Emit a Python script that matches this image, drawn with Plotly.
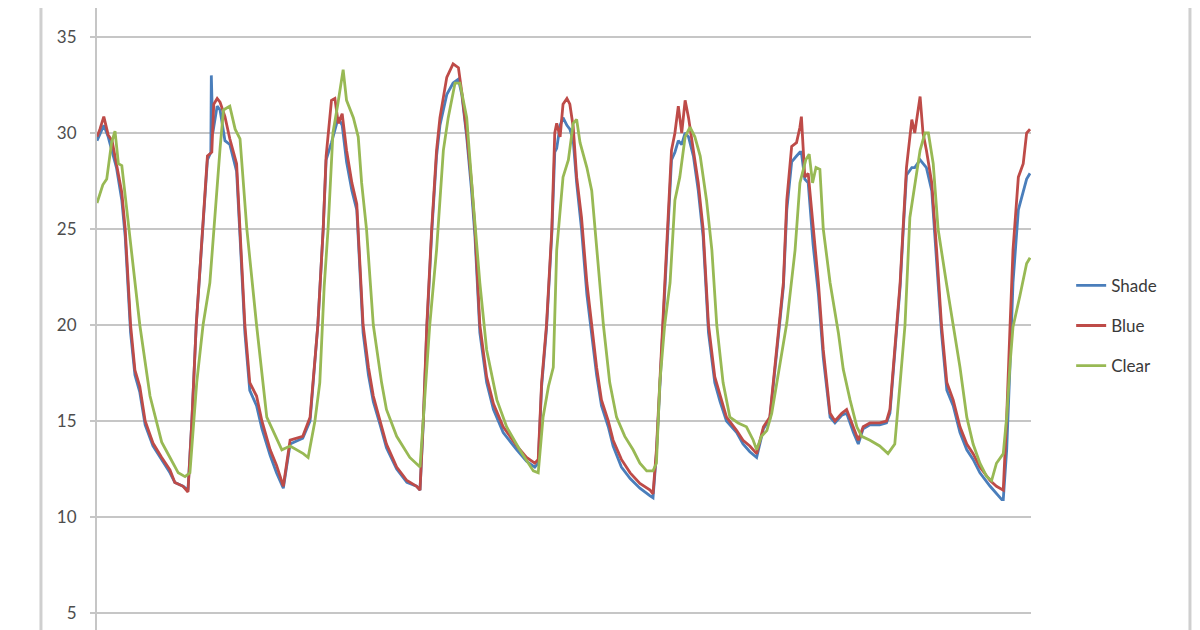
import plotly.graph_objects as go

# Time in hours from start of record
blue_h = [0, 0.6, 1.4, 2.3, 3.1, 4.0, 5.1, 5.8, 6.9, 7.8, 8.8, 9.9, 11.5, 13.3, 15.0, 16.0, 17.7, 18.7,
          19.5, 20.4, 21.7, 22.7, 23.6, 24.0, 24.7, 25.3, 26.3, 27.3, 28.7, 29.4, 30.4, 31.4, 32.8, 33.9,
          35.6, 36.9, 38.3, 39.7, 42.3, 43.8, 45.4, 46.5, 47.1, 48.2, 48.9, 49.6, 50.4, 51.3, 52.4, 53.4,
          54.1, 54.7, 55.8, 56.8, 58.2, 59.5, 61.6, 63.7, 65.7, 66.4, 67.1, 67.8, 68.8, 69.8, 70.5, 71.9,
          73.2, 74.3, 75.0, 76.0, 77.0, 77.7, 78.7, 80.1, 81.5, 83.5, 86.3, 88.3, 90.0, 90.7, 91.4, 92.4,
          93.5, 94.1, 94.5, 95.2, 95.8, 96.6, 97.2, 97.9, 98.6, 99.6, 100.7, 101.7, 102.7, 103.7, 105.1,
          106.1, 107.8, 109.6, 111.6, 113.7, 114.3, 115.0, 115.7, 116.4, 117.4, 118.1, 118.8, 119.5, 120.2,
          120.9, 121.6, 122.6, 123.6, 124.6, 125.7, 127.0, 128.1, 129.4, 131.5, 132.8, 134.2, 135.6, 137.0,
          138.3, 139.7, 141.1, 141.8, 142.8, 143.8, 144.5, 144.8, 145.5, 146.2, 147.2, 148.3, 149.3, 150.7,
          151.7, 153.1, 154.1, 155.5, 156.5, 157.5, 158.9, 160.9, 162.3, 163.0, 164.0, 165.1, 165.7, 166.4,
          167.5, 168.1, 169.2, 169.8, 170.5, 171.6, 172.6, 173.6, 174.7, 176.0, 177.4, 178.8, 180.1, 181.5,
          183.6, 184.9, 186.3, 187.0, 187.7, 188.3, 189.4, 190.4, 191.1, 191.8]
blue_v = [29.8, 30.2, 30.85, 29.9, 29.6, 28.4, 26.9, 25.0, 20.0, 17.65, 16.8, 15.0, 13.85, 13.1, 12.45, 11.8, 11.6, 11.3,
          15.0, 20.0, 25.0, 28.8, 29.0, 31.5, 31.8, 31.6, 30.85, 29.7, 28.4, 25.0, 20.0, 17.0, 16.3, 15.0,
          13.5, 12.7, 11.6, 14.0, 14.2, 15.2, 20.0, 25.0, 28.8, 31.7, 31.8, 30.5, 31.0, 29.1, 27.4, 26.3,
          23.0, 20.0, 17.8, 16.3, 15.0, 13.8, 12.6, 11.9, 11.6, 11.4, 15.2, 20.0, 25.0, 29.1, 30.8, 32.9,
          33.6, 33.4, 32.1, 30.0, 27.4, 25.0, 20.0, 17.3, 15.9, 14.7, 13.7, 13.1, 12.8, 13.0, 17.0, 20.0,
          25.0, 30.0, 30.5, 29.8, 31.5, 31.8, 31.5, 30.3, 27.7, 25.6, 22.2, 20.0, 17.8, 16.1, 15.0,
          14.0, 13.0, 12.3, 11.75, 11.4, 11.2, 13.5, 17.0, 20.0, 25.0, 29.1, 30.0, 31.4, 30.0,
          31.7, 30.8, 29.1, 27.4, 25.0, 20.0, 17.3, 16.3, 15.2, 14.5, 14.0, 13.7, 13.3, 14.7,
          15.2, 18.7, 22.2, 26.5, 29.3, 29.5, 30.3, 30.85, 27.7, 27.9, 25.0, 22.2, 18.7, 15.4,
          15.0, 15.4, 15.6, 14.7, 14.0, 14.7, 14.9, 14.9, 15.0, 15.6, 18.7, 22.2, 25.0, 28.2,
          30.7, 30.0, 31.9, 30.0, 29.1, 27.4, 23.9, 20.0, 17.0, 16.1, 14.7, 13.8, 13.3, 12.6,
          11.9, 11.6, 11.4, 15.2, 20.0, 23.9, 27.7, 28.4, 30.0, 30.2]

shade_h = [0, 1.4, 2.3, 4.0, 5.1, 5.8, 6.9, 7.8, 8.8, 9.9, 11.5, 13.3, 15.0, 16.0, 17.7, 18.7, 19.5, 20.4,
           21.7, 22.7, 23.4, 23.5, 23.8, 24.7, 25.3, 26.3, 27.3, 28.7, 29.4, 30.4, 31.4, 32.8, 33.9, 35.6,
           36.9, 37.8, 38.3, 39.7, 42.3, 43.8, 45.4, 46.5, 47.1, 48.2, 48.9, 49.6, 50.4, 51.3, 52.4, 53.4,
           54.1, 54.7, 55.8, 56.8, 58.2, 59.5, 61.6, 63.7, 65.7, 66.4, 67.1, 67.8, 68.8, 69.8, 70.5, 71.9,
           73.2, 74.3, 75.0, 76.0, 77.0, 77.7, 78.7, 80.1, 81.5, 83.5, 86.3, 88.3, 90.0, 90.7, 91.4, 92.4,
           93.5, 94.1, 94.5, 95.2, 95.8, 96.6, 97.2, 97.9, 98.6, 99.6, 100.7, 101.7, 102.7, 103.7, 105.1,
           106.1, 107.8, 109.6, 111.6, 113.7, 114.3, 115.0, 115.7, 116.4, 117.4, 118.1, 118.8, 119.5, 120.2,
           120.9, 121.6, 122.6, 123.6, 124.6, 125.7, 127.0, 128.1, 129.4, 131.5, 132.8, 134.2, 135.6, 137.0,
           138.3, 139.7, 141.1, 141.8, 142.8, 143.8, 144.5, 144.8, 145.5, 146.2, 147.2, 148.3, 149.3, 150.7,
           151.7, 153.1, 154.1, 155.5, 156.5, 157.5, 158.9, 160.9, 162.3, 163.0, 164.0, 165.1, 165.7, 166.4,
           167.5, 168.1, 169.2, 169.8, 170.5, 171.6, 172.6, 173.6, 174.7, 176.0, 177.4, 178.8, 180.1, 181.5,
           183.6, 184.9, 186.0, 186.3, 187.0, 187.7, 188.3, 189.4, 190.4, 191.1, 191.8]
shade_v = [29.6, 30.4, 29.8, 28.2, 26.5, 24.6, 19.6, 17.4, 16.5, 14.8, 13.7, 13.0, 12.3, 11.8, 11.6, 11.4, 15.0, 20.0,
           25.0, 28.6, 29.0, 33.0, 30.0, 31.4, 31.2, 29.6, 29.4, 28.0, 24.6, 19.6, 16.6, 15.8, 14.6, 13.2,
           12.3, 11.8, 11.5, 13.8, 14.1, 15.0, 20.0, 25.0, 28.6, 29.5, 30.2, 30.8, 30.4, 28.5, 27.0, 26.0,
           22.6, 19.6, 17.4, 16.0, 14.8, 13.6, 12.5, 11.8, 11.6, 11.4, 15.0, 19.8, 24.8, 28.8, 30.4, 32.0,
           32.6, 32.8, 32.0, 29.8, 27.0, 24.6, 19.6, 17.0, 15.6, 14.4, 13.5, 12.9, 12.6, 12.8, 16.8, 19.8,
           24.8, 29.0, 29.2, 30.4, 30.8, 30.4, 30.2, 29.6, 27.4, 25.0, 21.6, 19.4, 17.4, 15.8, 14.7,
           13.7, 12.6, 12.0, 11.5, 11.1, 11.0, 13.3, 16.8, 19.8, 24.8, 28.6, 29.0, 29.6, 29.4,
           30.0, 29.8, 28.8, 27.0, 24.6, 19.6, 17.0, 16.0, 15.0, 14.4, 13.8, 13.4, 13.1, 14.6,
           15.1, 18.5, 22.0, 26.0, 28.5, 28.8, 29.0, 29.0, 27.6, 27.4, 24.2, 21.6, 18.3, 15.2,
           14.9, 15.3, 15.4, 14.4, 13.8, 14.6, 14.8, 14.8, 14.9, 15.4, 18.5, 22.0, 24.8, 27.8,
           28.2, 28.2, 28.6, 28.4, 28.2, 27.0, 23.5, 19.6, 16.6, 15.8, 14.4, 13.5, 13.0, 12.3,
           11.6, 11.2, 10.9, 10.9, 13.5, 18.0, 22.2, 26.0, 27.0, 27.6, 27.9]

clear_h = [0, 1.2, 2.0, 3.0, 3.7, 4.4, 5.1, 6.6, 8.8, 10.9, 13.3, 15.0, 16.7, 18.1, 19.1, 20.5, 21.8, 23.2,
           24.0, 25.3, 26.0, 27.3, 28.4, 29.4, 30.8, 32.8, 34.9, 38.0, 39.7, 42.4, 43.4, 44.8, 45.8, 46.7,
           47.5, 48.5, 49.5, 50.6, 51.3, 52.7, 53.7, 54.4, 55.4, 56.8, 58.5, 59.5, 61.6, 64.3, 66.4, 67.1,
           68.4, 69.8, 71.2, 72.2, 73.6, 74.6, 76.0, 77.3, 78.7, 80.1, 82.2, 84.2, 86.9, 89.7, 90.7, 91.7,
           92.8, 93.8, 94.5, 95.8, 96.9, 97.9, 98.6, 99.3, 100.7, 101.7, 102.7, 104.1, 105.4, 106.8, 108.5,
           110.2, 111.6, 113.0, 114.3, 115.0, 115.7, 116.7, 117.8, 118.8, 119.8, 120.9, 121.9, 122.9, 124.0,
           125.3, 126.4, 127.4, 128.7, 130.1, 131.8, 133.5, 134.9, 135.6, 136.6, 137.7, 138.7, 140.4, 141.8,
           143.5, 144.5, 145.7, 146.4, 147.1, 147.8, 148.6, 149.3, 150.7, 152.4, 153.4, 154.8, 156.2, 157.2,
           158.9, 160.9, 162.6, 164.0, 165.1, 166.1, 167.1, 168.1, 169.2, 170.2, 170.9, 171.9, 172.9, 174.6,
           176.0, 177.4, 178.8, 180.1, 181.5, 182.9, 183.9, 184.9, 186.3, 187.0, 187.7, 188.3, 189.7, 191.1,
           191.8]
clear_v = [26.35, 27.3, 27.6, 29.5, 30.1, 28.4, 28.3, 25.0, 20.0, 16.3, 13.9, 13.1, 12.3, 12.1, 12.3, 17.0, 20.0, 22.2,
           25.0, 29.2, 31.2, 31.4, 30.2, 29.7, 25.0, 20.0, 15.2, 13.5, 13.7, 13.3, 13.1, 15.0, 17.0, 22.0,
           25.0, 30.0, 31.5, 33.3, 31.7, 30.8, 29.8, 27.4, 25.0, 20.0, 17.0, 15.6, 14.2, 13.1, 12.6, 15.2,
           20.0, 23.9, 29.1, 30.8, 32.6, 32.6, 30.8, 26.5, 22.2, 18.7, 16.1, 14.7, 13.5, 12.4, 12.3, 15.2,
           16.8, 17.8, 23.9, 27.7, 28.6, 30.5, 30.7, 29.5, 28.2, 27.0, 23.9, 20.0, 17.0, 15.2, 14.2,
           13.5, 12.8, 12.4, 12.4, 12.8, 17.0, 20.0, 22.2, 26.5, 27.7, 29.8, 30.3, 29.8, 28.8,
           26.5, 23.9, 20.0, 17.0, 15.2, 14.9, 14.7, 14.0, 13.5, 14.2, 14.5, 15.4, 18.0, 20.1,
           23.9, 27.4, 28.6, 28.9, 27.4, 28.2, 28.1, 25.0, 22.2, 19.6, 17.7, 16.1, 14.7, 14.2,
           14.0, 13.7, 13.3, 13.8, 17.0, 20.0, 25.6, 27.4, 29.1, 30.0, 30.0, 28.4, 25.0, 22.2,
           20.0, 17.8, 15.2, 13.8, 12.8, 12.1, 11.9, 12.8, 13.3, 15.2, 18.0, 19.9, 21.5, 23.2,
           23.5]

y_ticks = [5, 10, 15, 20, 25, 30, 35]

GRID = "#C6C6C6"
FONT = "Lato"

fig = go.Figure()
fig.add_trace(go.Scatter(x=shade_h, y=shade_v, name="Shade", mode="lines",
                         line=dict(color="#4A7EBB", width=2.8), legendgroup="a"))
fig.add_trace(go.Scatter(x=blue_h, y=blue_v, name="Blue", mode="lines",
                         line=dict(color="#BE4B48", width=2.8), legendgroup="b"))
fig.add_trace(go.Scatter(x=clear_h, y=clear_v, name="Clear", mode="lines",
                         line=dict(color="#98B954", width=2.8), legendgroup="c"))

fig.update_layout(
    width=1192, height=622,
    margin=dict(l=89, r=169, t=0, b=0),
    paper_bgcolor="white", plot_bgcolor="white",
    font=dict(family=FONT, size=17, color="#4D4D4D"),
    showlegend=True,
    legend=dict(x=1.043, xanchor="left", y=0.489, yanchor="middle",
                tracegroupgap=15, font=dict(size=17, color="#3A3A3A"),
                bgcolor="rgba(0,0,0,0)"),
    xaxis=dict(range=[0, 192], showgrid=False, showticklabels=False, zeroline=False,
               showline=False, ticks=""),
    yaxis=dict(range=[4.115, 36.51], tickvals=y_ticks, showgrid=True, gridcolor=GRID, gridwidth=2,
               zeroline=False, showline=True, linecolor=GRID, linewidth=2,
               ticks="outside", ticklen=5, tickwidth=2, tickcolor=GRID,
               ticklabelstandoff=10),
    shapes=[
        dict(type="line", xref="paper", yref="paper", x0=-0.0600, x1=-0.0600, y0=0, y1=1,
             line=dict(color="#CFCFCF", width=3)),
        dict(type="line", xref="paper", yref="paper", x0=1.1702, x1=1.1702, y0=0, y1=1,
             line=dict(color="#CFCFCF", width=3)),
    ],
)

fig.write_html("out.html")
